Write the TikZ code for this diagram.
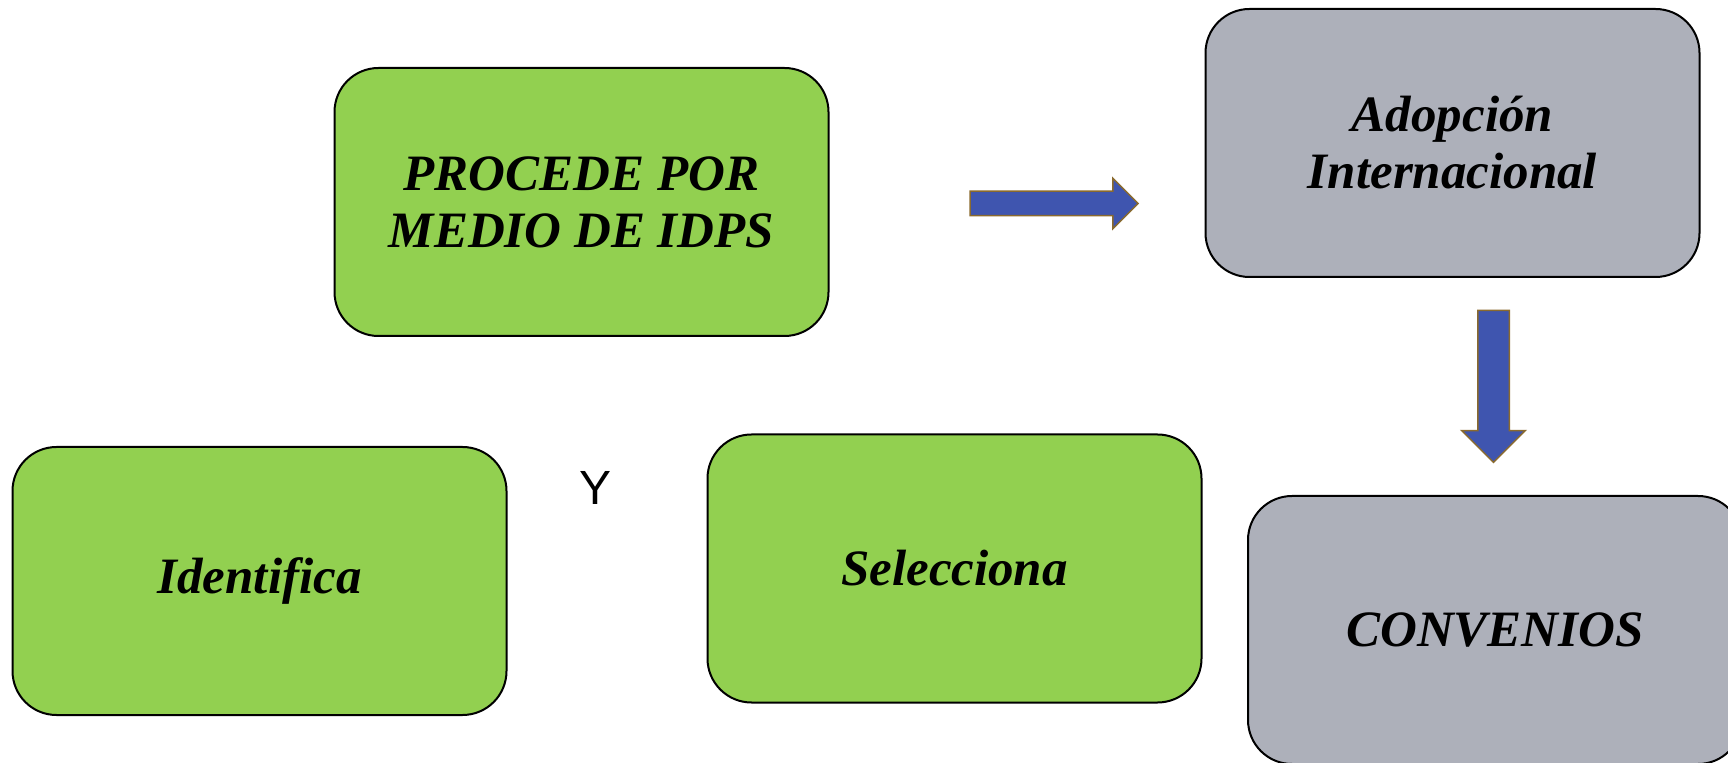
\documentclass[tikz,border=0pt]{standalone}
\usepackage{fontspec}
\newfontfamily\yfont{Liberation Sans}
\newfontfamily\boxfont{Liberation Serif}
\usetikzlibrary{positioning,shapes.arrows}
\definecolor{boxgreen}{HTML}{92D050}
\definecolor{boxgray}{HTML}{ADB0BA}
\definecolor{arrowblue}{HTML}{3F55AF}
\definecolor{arrowbrown}{HTML}{8A6A2E}

\begin{document}
\begin{tikzpicture}[x=0.5pt, y=-0.5pt, node distance=1cm]
    \tikzstyle{every node}=[font=\fontsize{25.5}{28.5}\selectfont\boxfont\bfseries\itshape]
    \tikzstyle{box}=[draw=black, line width=1pt, rounded corners=22pt, minimum width=247pt, minimum height=134pt, align=center, text=black]
    \tikzstyle{greenbox}=[box, fill=boxgreen]
    \tikzstyle{graybox}=[box, fill=boxgray]
    \tikzstyle{blockarrow}=[single arrow, fill=arrowblue, draw=arrowbrown, line width=0.75pt, inner sep=0pt]

    \clip (0,0) rectangle (1728,763);

    % top row
    \node[greenbox] (procede) at (581.5,202) {PROCEDE POR\\MEDIO DE IDPS};
    \node[graybox] (adopcion) [right=187.5pt of procede, yshift=29.5pt] {Adopción\\Internacional};
    \node[graybox] (convenios) [below=108.5pt of adopcion, xshift=21.25pt] {CONVENIOS};

    % bottom row
    \node[greenbox] (identifica) at (259.5,581) {Identifica};
    \node[greenbox] (selecciona) [right=99.5pt of identifica, yshift=6.25pt] {Selecciona};
    \node[font=\fontsize{24}{28}\selectfont\yfont] (y) at (595,488) {Y};

    % block arrows
    \node[blockarrow, minimum height=84pt, inner ysep=5.75pt, single arrow head extend=6.5pt] (toadopcion) at (1048,203.5) {};
    \node[blockarrow, rotate=-90, minimum height=76pt, inner ysep=7.5pt, single arrow head extend=8pt] (toconvenios) at (1493.5,378.5) {};
\end{tikzpicture}
\end{document}
